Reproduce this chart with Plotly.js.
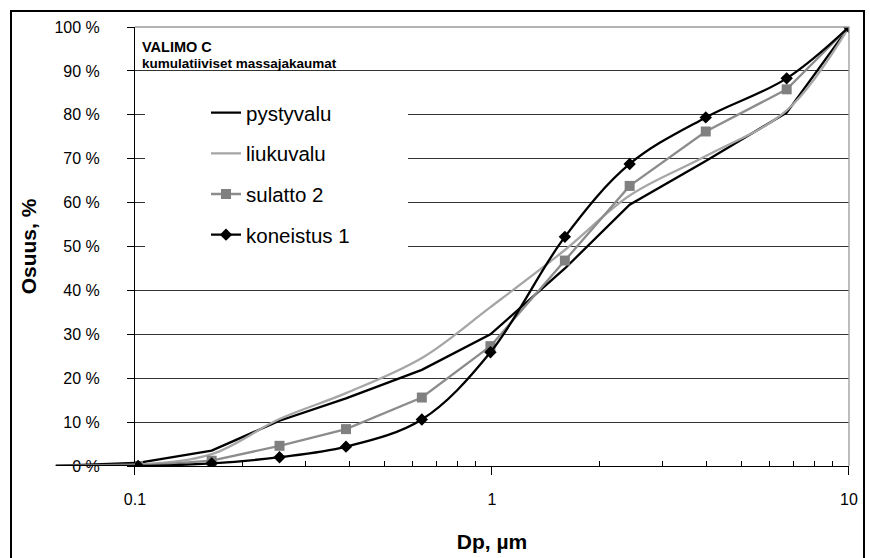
<!DOCTYPE html>
<html>
<head>
<meta charset="utf-8">
<script src="https://cdn.plot.ly/plotly-3.0.1.min.js"></script>
<style>html,body{margin:0;padding:0;background:#fff;}#chart{width:870px;height:558px;}</style>
</head>
<body>
<div id="chart"></div>
<script>
// Particle diameter Dp (µm) – the first value lies left of the 0.1 axis
const diameters = [0.06, 0.102, 0.164, 0.254, 0.39, 0.636, 0.99, 1.6, 2.43, 3.97, 6.69, 10];
// cumulative mass fractions (%)
const pystyvalu  = [0, 0.7, 3.5, 10.3, 15.4, 21.9, 30.0, 45.0, 59.5, 69.5, 80.5, 100];
const liukuvalu  = [0, 0.3, 2.7, 10.7, 16.6, 24.6, 36.2, 49.2, 61.6, 70.6, 81.0, 100];
const sulatto2   = [0, 0, 1.2, 4.6, 8.4, 15.6, 27.3, 46.8, 63.8, 76.2, 85.8, 100];
const koneistus1 = [0, 0, 0.6, 2.0, 4.4, 10.6, 25.9, 52.2, 68.8, 79.4, 88.3, 100];
const seriesNames = ['pystyvalu', 'liukuvalu', 'sulatto 2', 'koneistus 1'];
const seriesValues = [pystyvalu, liukuvalu, sulatto2, koneistus1];
const xTickVals = [0.1, 1, 10];
const xTickText = ['0.1', '1', '10'];
const xMinorVals = [0.2,0.3,0.4,0.5,0.6,0.7,0.8,0.9,2,3,4,5,6,7,8,9];

const styles = [
  {line:{color:'#000000', width:2.3, shape:'linear'}, mode:'lines'},
  {line:{color:'#a6a6a6', width:2.3, shape:'spline', smoothing:1}, mode:'lines'},
  {line:{color:'#8c8c8c', width:2.3, shape:'linear'}, mode:'lines+markers', marker:{symbol:'square', size:10, color:'#808080'}},
  {line:{color:'#000000', width:2.3, shape:'spline', smoothing:1}, mode:'lines+markers', marker:{symbol:'diamond', size:9.5, color:'#000000'}}
];

const traces = [];
seriesValues.forEach((vals, i) => {
  const t = {x: diameters, y: vals, name: seriesNames[i], type:'scatter', xaxis:'x', yaxis:'y',
             legendgroup:'g'+i, mode: styles[i].mode, line: styles[i].line};
  if (styles[i].marker) t.marker = styles[i].marker;
  traces.push(t);
});
// left extension of the series (below 0.1 µm) on a helper axis
seriesValues.forEach((vals, i) => {
  traces.push({x: diameters.slice(0,2), y: vals.slice(0,2), type:'scatter', mode:'lines',
               xaxis:'x2', yaxis:'y2', showlegend:false, hoverinfo:'skip',
               line:{color: styles[i].line.color, width: 2.5}});
});

const font = 'Liberation Sans, Arial, sans-serif';
const xStart = 0.103;
const layout = {
  width: 870, height: 558,
  margin: {l:53, r:21, t:27, b:92},
  paper_bgcolor:'#ffffff', plot_bgcolor:'rgba(0,0,0,0)',
  font: {family: font, color:'#000', size:16},
  showlegend: true,
  xaxis: {
    type:'log', range:[-1, 1], domain:[xStart, 1], anchor:'y',
    tickmode:'array', tickvals:xTickVals, ticktext:xTickText,
    ticks:'outside', ticklen:8, tickcolor:'#000', tickwidth:1,
    showline:true, linecolor:'#000', linewidth:1, showgrid:false, zeroline:false,
    ticklabelstandoff: 11,
    tickfont:{size:16},
    minor:{tickmode:'array', tickvals:xMinorVals, ticks:'inside', ticklen:5, tickcolor:'#000', showgrid:false},
    title:{text:'<b>Dp, µm</b>', font:{size:21}, standoff:27}
  },
  yaxis: {
    range:[0, 100], dtick:10, tick0:0, anchor:'x', ticksuffix:' %',
    ticks:'outside', ticklen:7, tickcolor:'#000',
    showline:true, linecolor:'#000', linewidth:1,
    showgrid:true, gridcolor:'#333333', gridwidth:1, zeroline:false,
    ticklabelstandoff: 24,
    tickfont:{size:16},
    title:{text:'<b>Osuus, %</b>', font:{size:21}, standoff:12}
  },
  xaxis2: {type:'log', range:[-1.2297, -1], domain:[0, xStart], anchor:'y2', visible:false},
  yaxis2: {range:[0, 100], domain:[0,1], anchor:'x2', visible:false, showgrid:false},
  legend: {
    x:(145-53)/796, y:0.85, xanchor:'left', yanchor:'top',
    bgcolor:'#ffffff', borderwidth:0, indentation:61,
    font:{size:20.5}, traceorder:'grouped', tracegroupgap:11
  },
  annotations: [
    {text:'<b>VALIMO C</b>', xref:'paper', yref:'paper', x:(140-53)/796, y:(466-47)/439,
     xanchor:'left', yanchor:'middle', showarrow:false, font:{size:14.5}},
    {text:'<b>kumulatiiviset massajakaumat</b>', xref:'paper', yref:'paper', x:(140-53)/796, y:(466-63)/439,
     xanchor:'left', yanchor:'middle', showarrow:false, font:{size:13.5}},
    // white extension of the legend box
    {text:'&nbsp;', xref:'paper', yref:'paper', x:(355-53)/796, y:(466-94)/439,
     xanchor:'left', yanchor:'top', showarrow:false, bgcolor:'#ffffff', borderpad:0, borderwidth:0,
     width:53, height:160}
  ],
  shapes: [
    // plot area border (top/right gray)
    {type:'path', xref:'paper', yref:'paper', path:'M ' + xStart + ',1 L 1,1 L 1,0',
     line:{color:'#9a9a9a', width:1.3}, layer:'above'},
    // outer chart frame
    {type:'rect', xref:'paper', yref:'paper', x0:(11-53)/796, x1:(864-53)/796, y0:(466-562)/439, y1:(466-11)/439,
     line:{color:'#000', width:2}, fillcolor:'rgba(0,0,0,0)', layer:'above'}
  ]
};

Plotly.newPlot('chart', traces, layout, {displayModeBar:false, staticPlot:true});
</script>
</body>
</html>
